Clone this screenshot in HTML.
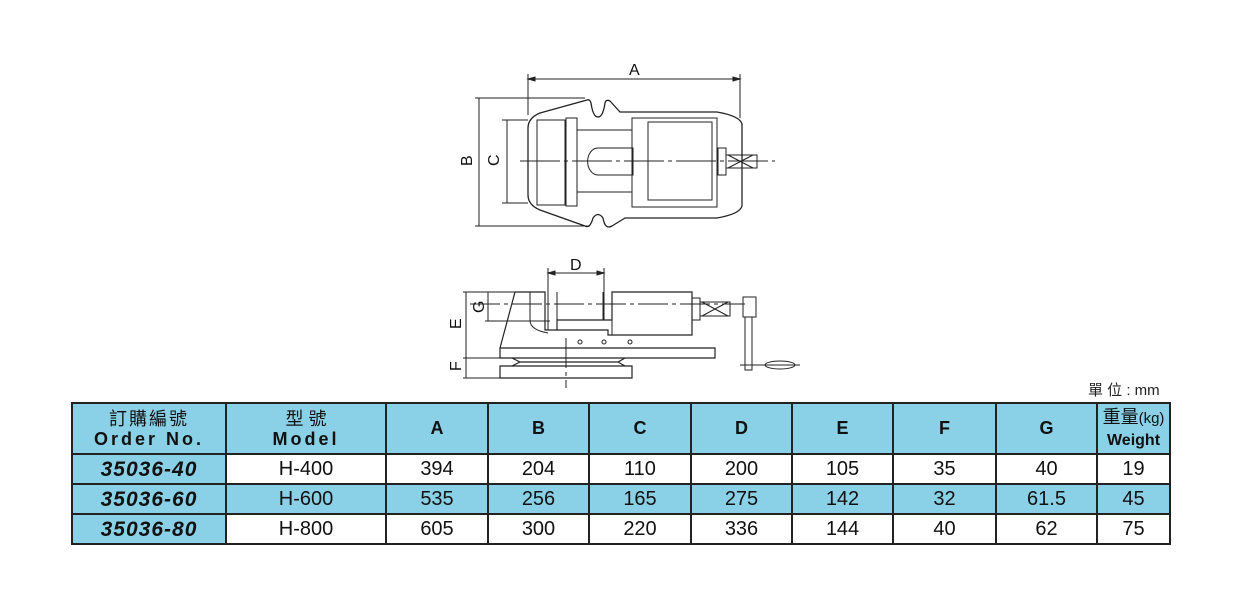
<!DOCTYPE html>
<html><head><meta charset="utf-8"><style>
body{margin:0;background:#fff;width:1240px;height:603px;position:relative;overflow:hidden;font-family:"Liberation Sans","Noto Sans CJK TC",sans-serif}
svg{position:absolute;left:0;top:0}
table{position:absolute;left:71px;top:402px;border-collapse:collapse;border:2px solid #222;table-layout:fixed;width:1098px}
td{border:2px solid #222;text-align:center;padding:0;font-size:20px;color:#111;vertical-align:middle}
.c{background:#8ad1e7}
.h td{height:49px;font-weight:bold;font-size:18px}
.r td{height:27px;padding-top:1px}
.ord{font-weight:bold;font-style:italic;font-size:21px;letter-spacing:1px}
.unit{position:absolute;left:1088px;top:379px;font-size:15px;color:#222}
</style></head><body>
<svg width="1240" height="603" viewBox="0 0 1240 603" fill="none" stroke="#222" stroke-width="1">
<g font-family="Liberation Sans" font-size="16" fill="#111" stroke="none">
<text x="629" y="75">A</text>
<text x="0" y="0" transform="translate(472,166) rotate(-90)">B</text>
<text x="0" y="0" transform="translate(499,166) rotate(-90)">C</text>
<text x="570" y="270">D</text>
<text x="0" y="0" transform="translate(461,329) rotate(-90)">E</text>
<text x="0" y="0" transform="translate(461,371) rotate(-90)">F</text>
<text x="0" y="0" transform="translate(484,313) rotate(-90)">G</text>
</g>
<path d="M528 74V115M740 74V118M528 79H740M475 98H585M475 226H590M479 98V226M502 120H528M502 203H528M507 120V203"/>
<path d="M528 79l7-2v4zM740 79l-7-2v4z" fill="#222"/>
<path d="M540 113L587 100Q590 99 591 103Q593 117 598 117Q603 117 605 103Q606 99 610 101L620 112L717 112Q740 116 742 124V206Q740 214 717 218L625 218L612 226Q605 230 603 218Q598 211 593 218Q590 229 585 226L540 210Q528 205 528 195V128Q528 118 540 113Z" stroke-width="1.3"/>
<path d="M537 120H565V205H537Z M566 118H577V206H566Z M577 130H632M577 192H632 M632 118H717V207H632Z M648 122H712V200H648Z M718 148H726V175H718Z"/>
<path d="M598 148H633V175H598A10 13 0 0 1 598 148Z"/>
<path d="M726 155H757V168H726M728 155L753 168M728 168L753 155"/>
<path d="M520 161H775" stroke-dasharray="40 4 4 4"/>
<path d="M548 268V330M604 268V320M548 273H604M463 292H540M485 321H550M466 292V378M488 292V321M463 358H500M463 378H500"/>
<path d="M548 273l7-2v4zM604 273l-7-2v4z" fill="#222"/>
<path d="M515 292H545V330H557V320H612V292H692V335H608V330H557M515 292L500 348H715V358H500V348 M512 358L520 362H618L625 358M500 366H632V378H500Z M520 362L512 366M618 362L625 366" stroke-width="1.2"/>
<path d="M548 292V330M557 292V330M603 292V320M612 320V335M692 298H700V320H692M700 302H730V316H700M702 302L728 316M702 316L728 302"/>
<path d="M530 292V320Q530 330 548 333"/>
<path d="M566 338V388M470 304H745" stroke-dasharray="30 4 4 4"/>
<circle cx="580" cy="342" r="2"/><circle cx="604" cy="342" r="2"/><circle cx="630" cy="342" r="2"/>
<path d="M743 297H756V317H743ZM745 317V370H752V317M740 365H800"/>
<ellipse cx="780" cy="365" rx="15" ry="4"/>
</svg>
<div class="unit">單 位 : mm</div>
<table>
<colgroup><col style="width:154px"><col style="width:160px"><col style="width:102px"><col style="width:101px"><col style="width:102px"><col style="width:101px"><col style="width:101px"><col style="width:103px"><col style="width:101px"><col style="width:73px"></colgroup>
<tr class="h">
<td class="c" style="line-height:20px"><span style="font-weight:normal;letter-spacing:2px">訂購編號</span><br><span style="letter-spacing:3px">Order No.</span></td>
<td class="c" style="line-height:20px"><span style="font-weight:normal">型 號</span><br><span style="letter-spacing:3px">Model</span></td>
<td class="c">A</td><td class="c">B</td><td class="c">C</td><td class="c">D</td><td class="c">E</td><td class="c">F</td><td class="c">G</td>
<td class="c" style="line-height:20px"><span style="font-weight:normal">重量<small>(kg)</small></span><br><span style="font-size:16px">Weight</span></td></tr>
<tr class="r"><td class="c ord">35036-40</td><td>H-400</td><td>394</td><td>204</td><td>110</td><td>200</td><td>105</td><td>35</td><td>40</td><td>19</td></tr>
<tr class="r c"><td class="c ord">35036-60</td><td>H-600</td><td>535</td><td>256</td><td>165</td><td>275</td><td>142</td><td>32</td><td>61.5</td><td>45</td></tr>
<tr class="r"><td class="c ord">35036-80</td><td>H-800</td><td>605</td><td>300</td><td>220</td><td>336</td><td>144</td><td>40</td><td>62</td><td>75</td></tr>
</table>
</body></html>
